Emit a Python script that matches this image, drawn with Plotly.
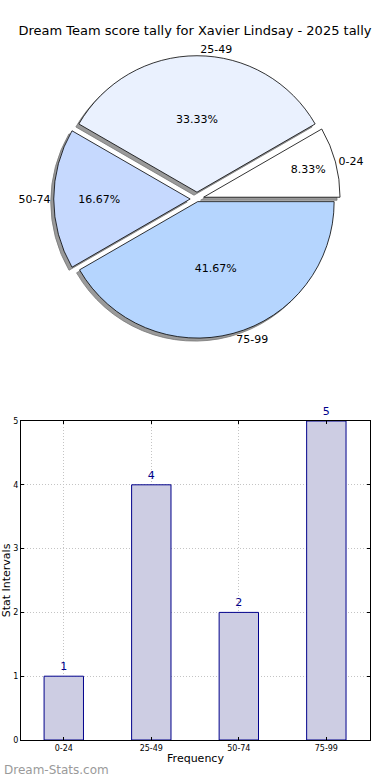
import plotly.graph_objects as go

title = "Dream Team score tally for Xavier Lindsay - 2025 tally"
categories = ["0-24", "25-49", "50-74", "75-99"]
counts = [1, 4, 2, 5]
slice_colors = ["#ffffff", "#eaf1fe", "#c6d9fe", "#b5d5fe"]
pulls = [0.05, 0.05, 0.05, 0.02]

W, H = 390, 780
cx, cy, R = 196, 199, 144
start_rot = 90 - 360 * counts[0] / sum(counts)

def dom(cx_px, cy_px, half):
    return dict(x=[(cx_px - half) / W, (cx_px + half) / W],
                y=[1 - (cy_px + half) / H, 1 - (cy_px - half) / H])

fig = go.Figure()

pie_common = dict(labels=categories, values=counts, sort=False,
                  direction="counterclockwise", rotation=start_rot, pull=pulls)

# shadow pie
fig.add_trace(go.Pie(
    **pie_common, domain=dom(cx - 3, cy + 3, R),
    marker=dict(colors=["#9a9a9a"] * 4, line=dict(color="#777777", width=0.8)),
    textinfo="none", hoverinfo="skip", showlegend=False,
))
# main pie
fig.add_trace(go.Pie(
    **pie_common, domain=dom(cx, cy, R),
    marker=dict(colors=slice_colors, line=dict(color="#000000", width=0.8)),
    texttemplate="%{percent:.2%}", textposition="inside",
    insidetextorientation="horizontal",
    textfont=dict(family="DejaVu Sans", size=11, color="#000000"),
    showlegend=False,
))
# outside labels
fig.add_trace(go.Pie(
    **pie_common, domain=dom(cx, cy, R),
    marker=dict(colors=["rgba(0,0,0,0)"] * 4, line=dict(width=0)),
    textinfo="label", textposition="outside",
    textfont=dict(family="DejaVu Sans", size=11, color="#000000"),
    hoverinfo="skip", showlegend=False,
))

# bar chart
fig.add_trace(go.Bar(
    x=categories, y=counts, width=0.45,
    marker=dict(color="#cdcde3", line=dict(color="#00008b", width=1)),
    text=[str(v) for v in counts], textposition="outside",
    textfont=dict(family="DejaVu Sans", size=11, color="#00008b"),
    cliponaxis=False, showlegend=False,
))

axis_common = dict(showline=True, mirror="ticks", linecolor="black", linewidth=1,
                   showgrid=True, gridcolor="#c4c4c4", griddash="1px,2px", gridwidth=1,
                   ticks="inside", ticklen=3, tickcolor="black", tickfont=dict(size=8),
                   zeroline=False, automargin=False)

fig.update_layout(
    width=W, height=H, margin=dict(l=0, r=0, t=0, b=0),
    paper_bgcolor="white", plot_bgcolor="white",
    font=dict(family="DejaVu Sans", color="#000000"),
    title=dict(text=title, x=0.5, xanchor="center", y=1 - 30 / H, yanchor="middle",
               font=dict(size=13, family="DejaVu Sans")),
    xaxis=dict(domain=[19 / W, 370 / W], range=[-0.49, 3.5],
               title=dict(text="Frequency", font=dict(size=11), standoff=2), **axis_common),
    yaxis=dict(domain=[1 - 740 / H, 1 - 421 / H], range=[0, 5], dtick=1,
               title=dict(text="Stat Intervals", font=dict(size=11), standoff=0), **axis_common),
    annotations=[dict(text="Dream-Stats.com", x=0, y=1 - 770 / H, xref="paper", yref="paper",
                      xanchor="left", yanchor="middle", showarrow=False,
                      font=dict(size=12, color="#9a9a9a", family="DejaVu Sans"))],
)

fig.write_html("out.html", config={"displayModeBar": False},
               post_script="document.body.style.margin='0';document.body.style.padding='0';document.body.style.overflow='hidden';")
